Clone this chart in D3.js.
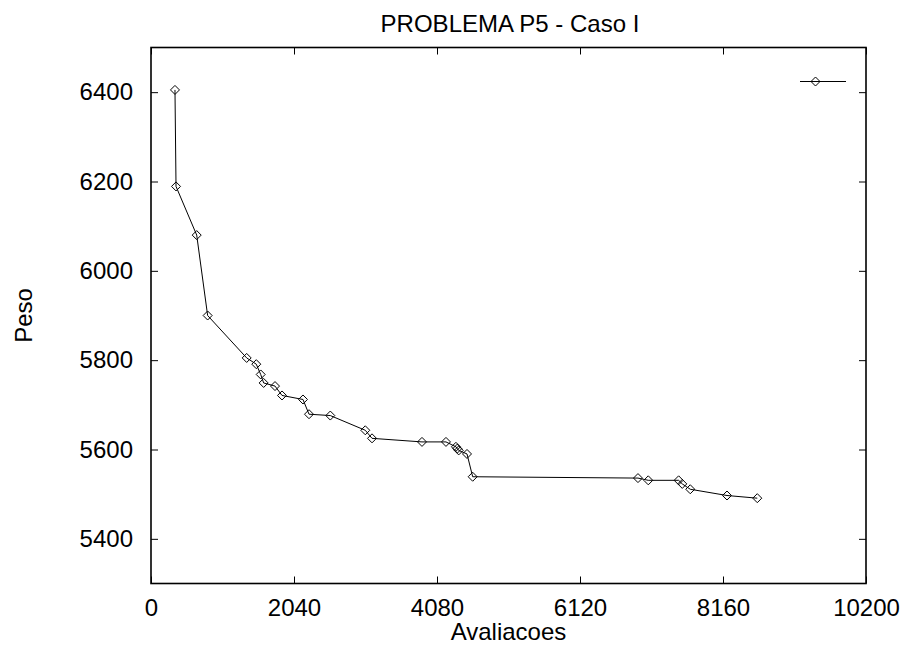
<!DOCTYPE html>
<html>
<head>
<meta charset="utf-8">
<script src="https://cdn.jsdelivr.net/npm/d3@7"></script>
<style>
  body { margin: 0; background: #fff; }
  text { font-family: "Liberation Sans", Arial, sans-serif; fill: #000; }
</style>
</head>
<body>
<script>
// data
var avaliacoes = [342, 357, 652, 808, 1365, 1502, 1565, 1607, 1769, 1869, 2168, 2254, 2558,
                  3057, 3153, 3866, 4208, 4350, 4370, 4390, 4508, 4589, 6947, 7094, 7527,
                  7579, 7693, 8217, 8649];
var peso = [6405, 6189, 6080, 5900, 5805, 5791, 5768, 5749, 5742, 5721, 5712, 5679, 5676,
            5643, 5625, 5617, 5617, 5606, 5602, 5598, 5590, 5539, 5536, 5531, 5531,
            5523, 5511, 5497, 5491];
var xTicks = [0, 2040, 4080, 6120, 8160, 10200];
var yTicks = [5400, 5600, 5800, 6000, 6200, 6400];

var margin = {top: 47.5, right: 40, bottom: 62.5, left: 151},
    width = 906 - margin.left - margin.right,
    height = 646 - margin.top - margin.bottom;

var x = d3.scaleLinear().domain([0, 10200]).range([0, width]);
var y = d3.scaleLinear().domain([5300, 6500]).range([height, 0]);

var svg = d3.select("body").append("svg")
    .attr("width", 906)
    .attr("height", 646)
  .append("g")
    .attr("transform", "translate(" + margin.left + "," + margin.top + ")");

// ticks on all four sides, pointing inward
function styleAxis(g) {
  g.select(".domain").remove();
  g.selectAll(".tick line").attr("stroke", "#000").attr("stroke-width", 1);
  g.selectAll(".tick text").attr("font-size", "24px")
    .attr("font-family", "Liberation Sans, Arial, sans-serif");
}

svg.append("g")
    .attr("transform", "translate(0," + height + ")")
    .call(d3.axisBottom(x).tickValues(xTicks).tickSizeInner(-7).tickPadding(15).tickFormat(d3.format("d")))
    .call(styleAxis);

svg.append("g")
    .call(d3.axisTop(x).tickValues(xTicks).tickSizeInner(-7).tickFormat(""))
    .call(styleAxis);

svg.append("g")
    .call(d3.axisLeft(y).tickValues(yTicks).tickSizeInner(-7).tickPadding(18).tickFormat(d3.format("d")))
    .call(styleAxis);

svg.append("g")
    .attr("transform", "translate(" + width + ",0)")
    .call(d3.axisRight(y).tickValues(yTicks).tickSizeInner(-7).tickFormat(""))
    .call(styleAxis);

// frame
svg.append("rect")
    .attr("width", width)
    .attr("height", height)
    .attr("fill", "none")
    .attr("stroke", "#000")
    .attr("stroke-width", 1.6);

var data = avaliacoes.map(function(d, i) { return {x: d, y: peso[i]}; });

var line = d3.line()
    .x(function(d) { return x(d.x); })
    .y(function(d) { return y(d.y); });

svg.append("path")
    .datum(data)
    .attr("fill", "none")
    .attr("stroke", "#000")
    .attr("stroke-width", 1)
    .attr("d", line);

var diamond = "M0,-4.5L4.5,0L0,4.5L-4.5,0Z";

svg.selectAll(".pt")
    .data(data)
    .enter().append("path")
    .attr("class", "pt")
    .attr("d", diamond)
    .attr("transform", function(d) { return "translate(" + x(d.x) + "," + y(d.y) + ")"; })
    .attr("fill", "none")
    .attr("stroke", "#000")
    .attr("stroke-width", 1);

// legend (no label)
svg.append("line")
    .attr("x1", 800 - margin.left).attr("x2", 846 - margin.left)
    .attr("y1", 81.5 - margin.top).attr("y2", 81.5 - margin.top)
    .attr("stroke", "#000").attr("stroke-width", 1);
svg.append("path")
    .attr("d", diamond)
    .attr("transform", "translate(" + (815.5 - margin.left) + "," + (81.5 - margin.top) + ")")
    .attr("fill", "none")
    .attr("stroke", "#000");

// titles
svg.append("text")
    .attr("x", width / 2 + 1.5)
    .attr("y", 31.5 - margin.top)
    .attr("text-anchor", "middle")
    .attr("font-size", "24px")
    .text("PROBLEMA P5 - Caso I");

svg.append("text")
    .attr("x", width / 2)
    .attr("y", 640 - margin.top)
    .attr("text-anchor", "middle")
    .attr("font-size", "24px")
    .text("Avaliacoes");

svg.append("text")
    .attr("transform", "rotate(-90)")
    .attr("x", -(315.5 - margin.top))
    .attr("y", 32 - margin.left)
    .attr("text-anchor", "middle")
    .attr("font-size", "24px")
    .text("Peso");
</script>
</body>
</html>
